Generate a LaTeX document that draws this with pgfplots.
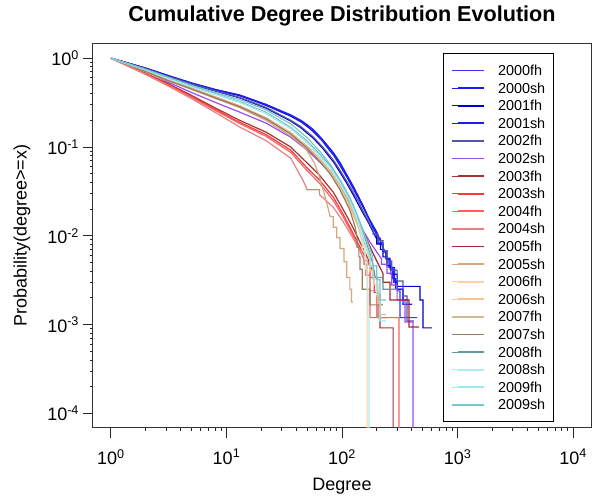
\documentclass[border=0pt]{standalone}
\usepackage{pgfplots}
\pgfplotsset{compat=1.18}
\usepackage{fontspec}
\setmainfont{Liberation Sans}
\definecolor{c1}{HTML}{3535FF}
\definecolor{c2}{HTML}{1A1AF2}
\definecolor{c3}{HTML}{0000CD}
\definecolor{c4}{HTML}{1E1EE6}
\definecolor{c5}{HTML}{5555AA}
\definecolor{c6}{HTML}{9B4DF5}
\definecolor{c7}{HTML}{A83232}
\definecolor{c8}{HTML}{F03C3C}
\definecolor{c9}{HTML}{FF5F5F}
\definecolor{c10}{HTML}{E98080}
\definecolor{c11}{HTML}{A52A2A}
\definecolor{c12}{HTML}{D4A77C}
\definecolor{c13}{HTML}{FFD0A0}
\definecolor{c14}{HTML}{F7C58F}
\definecolor{c15}{HTML}{D6B996}
\definecolor{c16}{HTML}{9C7B5B}
\definecolor{c17}{HTML}{5F9EA0}
\definecolor{c18}{HTML}{AEEEEE}
\definecolor{c19}{HTML}{98ECF5}
\definecolor{c20}{HTML}{7AC5CD}
\begin{document}
\begin{tikzpicture}[x=1pt,y=1pt]
\useasboundingbox (-92.5,-67.3) rectangle (503.5,427.7);
\begin{axis}[
  at={(0,0)}, anchor=south west,
  scale only axis, width=499pt, height=383.7pt,
  xmode=log, ymode=log,
  xmin=0.6918, xmax=14454,
  ymin=6.918e-5, ymax=1.4454,
  xtick={1,10,100,1000,10000},
  xticklabels={10\textsuperscript{0},10\textsuperscript{1},10\textsuperscript{2},10\textsuperscript{3},10\textsuperscript{4}},
  ytick={1e-4,1e-3,1e-2,1e-1,1},
  yticklabels={10\textsuperscript{-4},10\textsuperscript{-3},10\textsuperscript{-2},10\textsuperscript{-1},10\textsuperscript{0}},
  minor xtick={}, minor ytick={},
  xtick pos=bottom, ytick pos=left,
  tick align=outside, major tick length=10pt,
  tick style={black!85, line width=1pt},
  axis line style={black!80, line width=1pt},
  tick label style={font=\fontsize{18}{20}\selectfont},
  xticklabel style={yshift=-8pt},
  title={Cumulative Degree Distribution Evolution},
  title style={font=\bfseries\fontsize{21.6}{24}\selectfont, at={(0.5,1)}, anchor=base, yshift=16pt},
  xlabel={Degree},
  xlabel style={font=\fontsize{18}{20}\selectfont, at={(0.5,0)}, anchor=base, yshift=-63pt},
  ylabel={Probability(degree>=x)},
  ylabel style={font=\fontsize{18}{20}\selectfont, at={(axis description cs:-0.1413,0.5)}, anchor=center},
  every axis plot/.append style={line width=1.2pt, mark=none},
  legend cell align=left,
  legend image code/.code={\path (0pt,0pt) -- (6pt,0pt); \draw[#1, line width=1.8pt] (6pt,0pt) -- (32pt,0pt);},
  legend style={at={(axis description cs:0.7024,0.9765)}, anchor=north west,
    draw=black, line width=1pt, fill=white,
    font=\fontsize{14.4}{17}\selectfont,
    inner xsep=8pt, inner ysep=8.2pt, row sep=0pt, column sep=13pt,
    nodes={inner xsep=0pt, inner ysep=0pt, text height=13.8pt, text depth=3.8pt}},
]
\addplot[c1] coordinates {(1,1)(2,0.772)(3,0.645)(5,0.522)(8,0.442)(13,0.384)(22,0.3)(36,0.226)(44,0.198)(50,0.175)(56,0.157)(62,0.136)(68,0.121)(74,0.106)(85,0.085)(96,0.067)(110,0.049)(125,0.036)(140,0.027)(152,0.0215)(165,0.0172)(175,0.0148)(186,0.0128)(200,0.0108)(200,0.0094)(215,0.0094)(215,0.0080)(226,0.0080)(226,0.0068)(245,0.0068)(245,0.0054)(261,0.0054)(261,0.0042)(280,0.0042)(280,0.0030)(300,0.0030)(300,0.0024)(318,0.0024)(318,0.0012)(446,0.0012)};
\addlegendentry{2000fh}
\addplot[c2] coordinates {(1,1)(2,0.768)(3,0.64)(5,0.517)(8,0.437)(13,0.378)(22,0.294)(36,0.222)(44,0.192)(50,0.17)(56,0.15)(62,0.131)(68,0.116)(74,0.1)(85,0.08)(96,0.062)(110,0.046)(125,0.034)(140,0.026)(160,0.0185)(175,0.0148)(186,0.0122)(205,0.0095)(205,0.0083)(226,0.0083)(226,0.0066)(240,0.0066)(240,0.0055)(255,0.0055)(255,0.0044)(275,0.0044)(275,0.0033)(290,0.0033)(290,0.0025)(337,0.0025)(337,0.0017)(404,0.0017)};
\addlegendentry{2000sh}
\addplot[c3] coordinates {(1,1)(2,0.762)(3,0.628)(5,0.507)(8,0.427)(13,0.358)(22,0.274)(36,0.196)(44,0.165)(50,0.143)(56,0.127)(62,0.11)(68,0.097)(74,0.084)(85,0.067)(96,0.052)(110,0.039)(125,0.029)(140,0.022)(152,0.018)(170,0.014)(186,0.011)(200,0.0092)(200,0.0081)(215,0.0081)(215,0.0070)(226,0.0070)(226,0.0058)(245,0.0058)(245,0.0046)(265,0.0046)(265,0.0037)(300,0.0037)(300,0.0027)(473,0.0027)(473,0.0019)(502,0.0019)(502,0.00092)(601,0.00092)};
\addlegendentry{2001fh}
\addplot[c4] coordinates {(1,1)(2,0.775)(3,0.65)(5,0.527)(8,0.445)(13,0.385)(22,0.302)(36,0.23)(44,0.2)(50,0.178)(56,0.158)(62,0.138)(68,0.12)(74,0.105)(85,0.084)(96,0.066)(110,0.048)(125,0.036)(140,0.027)(152,0.022)(170,0.016)(186,0.013)(200,0.011)(215,0.0088)(226,0.0075)(240,0.0062)(240,0.0056)(261,0.0056)(261,0.0044)(285,0.0044)(285,0.0031)(300,0.0031)(300,0.0025)(337,0.0025)(337,0.0019)(380,0.0019)};
\addlegendentry{2001sh}
\addplot[c5] coordinates {(1,1)(2,0.765)(3,0.632)(5,0.512)(8,0.43)(13,0.362)(22,0.279)(36,0.2)(44,0.17)(50,0.148)(56,0.131)(62,0.114)(68,0.1)(74,0.088)(85,0.07)(96,0.055)(110,0.041)(125,0.031)(140,0.024)(152,0.019)(170,0.0145)(186,0.0115)(186,0.0104)(205,0.0104)(205,0.0088)(226,0.0088)(226,0.0068)(245,0.0068)(245,0.0052)(270,0.0052)(270,0.0041)(300,0.0041)(300,0.0031)(337,0.0031)(337,0.0021)(365,0.0021)(365,0.0011)(420,0.0011)};
\addlegendentry{2002fh}
\addplot[c6] coordinates {(1,1)(2,0.72)(3,0.55)(5,0.41)(8,0.318)(13,0.247)(22,0.186)(36,0.129)(50,0.092)(64,0.068)(79,0.051)(96,0.0355)(117,0.0234)(135,0.0159)(152,0.0115)(175,0.0085)(201,0.0065)(220,0.0055)(220,0.0048)(245,0.0048)(245,0.0038)(270,0.0038)(270,0.0028)(300,0.0028)(300,0.0019)(351,0.0019)(351,0.00107)(412,0.00107)(412,0.000001)};
\addlegendentry{2002sh}
\addplot[c7] coordinates {(1,1)(2,0.675)(3,0.53)(5,0.38)(8,0.275)(13,0.2)(22,0.147)(36,0.1)(50,0.066)(64,0.048)(84,0.031)(102,0.02)(124,0.0125)(143,0.0085)(165,0.0058)(185,0.0040)(185,0.0033)(200,0.0033)(200,0.0022)(213,0.0022)(213,0.00092)(277,0.00092)(277,0.000001)};
\addlegendentry{2003fh}
\addplot[c8] coordinates {(1,1)(2,0.668)(3,0.52)(5,0.37)(8,0.265)(13,0.19)(22,0.138)(36,0.0923)(50,0.058)(64,0.0424)(84,0.0273)(102,0.0176)(124,0.0108)(143,0.0075)(165,0.0052)(175,0.0045)(175,0.0034)(190,0.0034)(190,0.0023)(205,0.0023)(205,0.0012)(245,0.0012)};
\addlegendentry{2003sh}
\addplot[c9] coordinates {(1,1)(2,0.66)(3,0.512)(5,0.362)(8,0.258)(13,0.184)(22,0.132)(36,0.087)(50,0.054)(64,0.039)(84,0.025)(102,0.0165)(124,0.0102)(143,0.0072)(155,0.0060)(155,0.0048)(165,0.0048)(165,0.0036)(175,0.0036)(175,0.0012)(312,0.0012)(312,0.000001)};
\addlegendentry{2004fh}
\addplot[c10] coordinates {(1,1)(2,0.655)(3,0.5)(5,0.35)(8,0.245)(13,0.168)(22,0.118)(36,0.075)(46,0.042)(50,0.033)(64,0.033)(64,0.029)(84,0.021)(102,0.0145)(124,0.0095)(143,0.0068)(160,0.0048)(160,0.0036)(175,0.0036)(175,0.0024)(200,0.0024)(200,0.0012)(226,0.0012)};
\addlegendentry{2004sh}
\addplot[c11] coordinates {(1,1)(2,0.712)(3,0.578)(5,0.458)(8,0.366)(13,0.29)(22,0.212)(36,0.142)(50,0.098)(64,0.071)(79,0.053)(96,0.037)(117,0.024)(135,0.0165)(152,0.0115)(175,0.0075)(200,0.0052)(226,0.0038)(226,0.0030)(260,0.0030)(260,0.0019)(380,0.0019)(380,0.00094)(464,0.00094)};
\addlegendentry{2005fh}
\addplot[c12] coordinates {(1,1)(2,0.705)(3,0.565)(5,0.445)(8,0.352)(13,0.278)(22,0.2)(36,0.133)(44,0.108)(50,0.09)(58,0.065)(64,0.046)(69,0.032)(74,0.023)(79,0.0165)(84,0.0165)(84,0.0125)(90,0.0125)(90,0.0095)(96,0.0095)(96,0.0072)(104,0.0072)(104,0.0051)(110,0.0051)(110,0.0034)(117,0.0034)(117,0.0025)(121,0.0025)(121,0.0018)(124,0.0018)};
\addlegendentry{2005sh}
\addplot[c13] coordinates {(1,1)(2,0.714)(3,0.578)(5,0.458)(8,0.366)(13,0.291)(22,0.214)(36,0.146)(50,0.101)(64,0.072)(79,0.052)(96,0.035)(117,0.021)(135,0.0136)(143,0.0105)(150,0.0082)(150,0.0068)(158,0.0068)(158,0.0055)(165,0.0055)(165,0.000001)};
\addlegendentry{2006fh}
\addplot[c14] coordinates {(1,1)(2,0.709)(3,0.572)(5,0.452)(8,0.36)(13,0.286)(22,0.209)(36,0.141)(50,0.098)(64,0.07)(79,0.051)(96,0.034)(117,0.0205)(135,0.0135)(152,0.0092)(165,0.0068)(175,0.0052)(175,0.0040)(190,0.0040)(190,0.0028)(205,0.0028)(205,0.0017)(226,0.0017)};
\addlegendentry{2006sh}
\addplot[c15] coordinates {(1,1)(2,0.712)(3,0.576)(5,0.456)(8,0.364)(13,0.29)(22,0.213)(36,0.145)(50,0.102)(64,0.074)(79,0.054)(96,0.037)(117,0.0225)(135,0.0145)(152,0.0095)(165,0.0072)(175,0.0058)(175,0.0046)(185,0.0046)(185,0.0033)(200,0.0033)(200,0.0021)(213,0.0021)(213,0.0013)(240,0.0013)};
\addlegendentry{2007fh}
\addplot[c16] coordinates {(1,1)(2,0.708)(3,0.57)(5,0.45)(8,0.358)(13,0.284)(22,0.208)(36,0.14)(50,0.097)(64,0.069)(79,0.05)(96,0.033)(117,0.0195)(130,0.0125)(135,0.0095)(135,0.0075)(140,0.0075)(140,0.0058)(143,0.0058)(143,0.0042)(150,0.0042)(150,0.0025)(175,0.0025)(175,0.00167)(226,0.00167)};
\addlegendentry{2007sh}
\addplot[c17] coordinates {(1,1)(2,0.74)(3,0.61)(5,0.482)(8,0.397)(13,0.324)(22,0.245)(36,0.166)(50,0.116)(64,0.083)(79,0.061)(96,0.0415)(117,0.0262)(135,0.017)(152,0.0108)(165,0.0078)(175,0.0062)(185,0.0048)(194,0.0034)(226,0.0034)(226,0.0025)(300,0.0025)};
\addlegendentry{2008fh}
\addplot[c18] coordinates {(1,1)(2,0.736)(3,0.605)(5,0.476)(8,0.391)(13,0.318)(22,0.238)(36,0.16)(50,0.111)(64,0.079)(79,0.058)(96,0.039)(117,0.0245)(135,0.0155)(150,0.0095)(155,0.0075)(160,0.0058)(160,0.0042)(165,0.0042)(165,0.0025)(168,0.0025)(168,0.00125)(171,0.00125)(171,0.000001)};
\addlegendentry{2008sh}
\addplot[c19] coordinates {(1,1)(2,0.738)(3,0.607)(5,0.478)(8,0.393)(13,0.32)(22,0.241)(36,0.163)(50,0.1135)(64,0.081)(79,0.0594)(96,0.0403)(117,0.0253)(135,0.0163)(152,0.0102)(165,0.0072)(175,0.0058)(175,0.0045)(185,0.0045)(185,0.0033)(200,0.0033)(200,0.0022)(213,0.0022)(213,0.0011)(240,0.0011)};
\addlegendentry{2009fh}
\addplot[c20] coordinates {(1,1)(2,0.75)(3,0.622)(5,0.495)(8,0.41)(13,0.342)(22,0.262)(36,0.182)(50,0.127)(64,0.09)(79,0.064)(96,0.043)(117,0.027)(135,0.0175)(152,0.0115)(170,0.0078)(185,0.0058)(185,0.0046)(200,0.0046)(200,0.0032)(213,0.0032)(213,0.0019)(240,0.0019)};
\addlegendentry{2009sh}
\end{axis}
\end{tikzpicture}
\end{document}
